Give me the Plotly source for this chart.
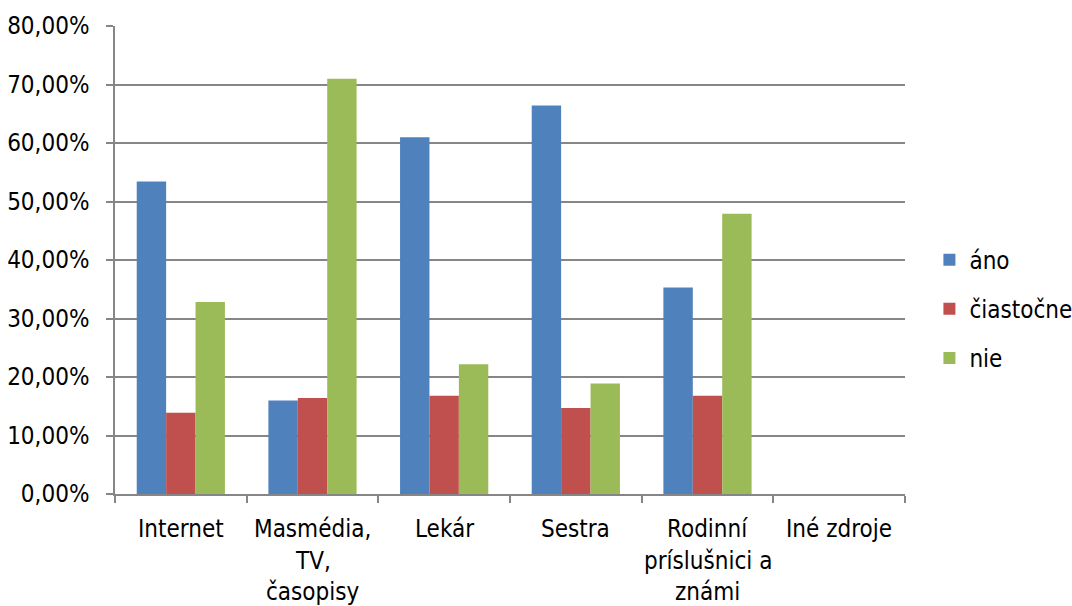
import plotly.graph_objects as go

# Sources of information and the share of answers per source
categories = ["Internet", "Masmédia, TV, časopisy", "Lekár", "Sestra",
              "Rodinní príslušnici a známi", "Iné zdroje"]
label_lines = [["Internet"], ["Masmédia,", "TV,", "časopisy"], ["Lekár"], ["Sestra"],
               ["Rodinní", "príslušnici a", "známi"], ["Iné zdroje"]]
ano = [0.534, 0.160, 0.610, 0.664, 0.353, 0.0]
ciastocne = [0.139, 0.164, 0.168, 0.147, 0.168, 0.0]
nie = [0.328, 0.710, 0.222, 0.189, 0.479, 0.0]
y_ticks = [0, 0.1, 0.2, 0.3, 0.4, 0.5, 0.6, 0.7, 0.8]

FONT = "Liberation Sans Narrow, DejaVu Sans Condensed, Lato, sans-serif"
FSIZE = 24
GRID = "#868686"

series = [("áno", ano, "#4F81BD"),
          ("čiastočne", ciastocne, "#C0504D"),
          ("nie", nie, "#9BBB59")]

fig = go.Figure()
for name, vals, color in series:
    fig.add_trace(go.Bar(
        x=categories, y=vals, name=name, legendgroup=name,
        marker=dict(color=color, line=dict(width=0)),
    ))

# Multi-line category labels under the axis
annotations = []
for cat, lines in zip(categories, label_lines):
    for i, line in enumerate(lines):
        annotations.append(dict(
            x=cat, y=0, xref="x", yref="y", text=line, showarrow=False,
            yshift=-35 - 31.5 * i, yanchor="middle",
            font=dict(family=FONT, size=FSIZE, color="#000000"),
        ))

fig.update_layout(
    width=1072, height=606,
    margin=dict(l=115, r=167, t=26, b=112),
    paper_bgcolor="white", plot_bgcolor="white",
    barmode="group", bargap=0.33, bargroupgap=0,
    separators=", ",
    font=dict(family=FONT, size=FSIZE, color="#000000"),
    showlegend=True,
    legend=dict(xref="container", yref="container", x=0.867, y=0.49,
                xanchor="left", yanchor="middle", tracegroupgap=15,
                font=dict(family=FONT, size=FSIZE, color="#000000"),
                itemclick=False),
    annotations=annotations,
)
fig.update_xaxes(
    type="category", showticklabels=False, showgrid=False,
    showline=True, linecolor=GRID, linewidth=1.5,
    ticks="outside", tickson="boundaries", ticklen=7, tickcolor=GRID, tickwidth=1.5,
    automargin=False,
)
fig.update_yaxes(
    range=[0, 0.8], tickvals=y_ticks, tickformat=".2%",
    showgrid=True, gridcolor=GRID, gridwidth=1.5,
    showline=True, linecolor=GRID, linewidth=1.5,
    ticks="outside", ticklen=7, tickcolor=GRID, tickwidth=1.5,
    zeroline=False, ticklabelstandoff=12, automargin=False,
)

fig.write_html("out.html")
